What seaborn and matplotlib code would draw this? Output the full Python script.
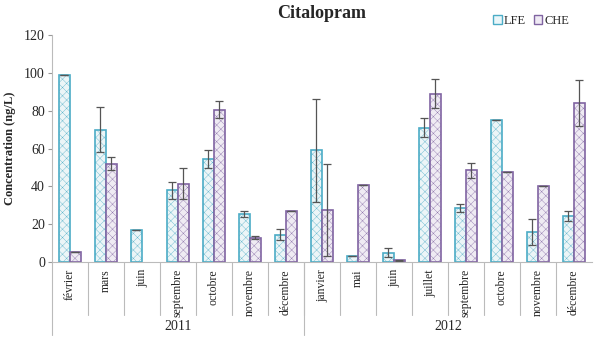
import numpy as np
import pandas as pd
import seaborn as sns
import matplotlib.pyplot as plt
import matplotlib.transforms as mtransforms
from matplotlib.patches import Patch

# ==================================
# DONNÉES
# ==================================

mois = ["février", "mars", "juin", "septembre", "octobre", "novembre", "décembre",
        "janvier", "mai", "juin ", "juillet", "septembre ", "octobre ", "novembre ", "décembre "]
annees = ["2011", "2012"]
n_mois_annee = [7, 8]

lfe = [99, 70, 17, 38, 54.5, 25.5, 14.5, 59, 3.5, 5, 71, 28.5, 75, 16, 24.5]
lfe_err = [0, 12, 0, 4.5, 5, 1.5, 3, 27, 0, 2.5, 5, 2, 0, 7, 2.5]
che = [5.5, 52, np.nan, 41.5, 80.5, 13, 27, 27.5, 41, 1, 89, 48.5, 47.5, 40, 84]
che_err = [0, 3.5, 0, 8, 4.5, 1, 0, 24.5, 0, 0.3, 7.5, 4, 0, 0, 12]

sites = ["LFE", "CHE"]
df = pd.DataFrame({
    "mois": mois * 2,
    "site": ["LFE"] * len(mois) + ["CHE"] * len(mois),
    "conc": lfe + che,
    "err": lfe_err + che_err,
})

# ==================================
# FIGURE
# ==================================

sns.set_style("white")
plt.rcParams["font.family"] = ["Liberation Serif", "DejaVu Serif"]
plt.rcParams["hatch.linewidth"] = 0.25

fig = plt.figure(figsize=(5.96, 3.40), dpi=100)
ax = fig.add_axes([0.087, 0.229, 0.906, 0.668])

bords = {"LFE": "#4bacc6", "CHE": "#8064a2"}
fonds = {"LFE": "#eaf6f9", "CHE": "#efeaf4"}

sns.barplot(
    data=df, x="mois", y="conc", hue="site", hue_order=sites,
    palette=fonds, width=0.6, errorbar=None, legend=False, ax=ax
)

# bordures, hachures et barres d'erreur (par série)
erreurs = {"LFE": lfe_err, "CHE": che_err}
valeurs = {"LFE": lfe, "CHE": che}
for site, cont in zip(sites, ax.containers):
    for p in cont.patches:
        p.set_edgecolor(bords[site])
        p.set_linewidth(1.2)
        p.set_hatch("xxxx")
        xc = p.get_x() + p.get_width() / 2
        k = int(round(xc))
        val = valeurs[site][k]
        if np.isnan(val):
            continue
        ax.errorbar(xc, val, yerr=erreurs[site][k], fmt="none", ecolor="#555555",
                    elinewidth=0.9, capsize=3, capthick=0.9)

ax.set_ylim(0, 120)
ax.set_yticks(range(0, 121, 20))
ax.set_xlim(-0.5, len(mois) - 0.5)
ax.tick_params(axis="y", labelsize=10, length=3, color="#999999", left=True, pad=2)
ax.set_ylabel("Concentration (ng/L)", fontsize=9, fontweight="bold", labelpad=6)
ax.set_xlabel("")

for s in ["top", "right"]:
    ax.spines[s].set_visible(False)
ax.spines["left"].set_color("#bbbbbb")
ax.spines["bottom"].set_color("#bbbbbb")

ax.set_xticks(range(len(mois)))
ax.set_xticklabels([m.strip() for m in mois], rotation=90, fontsize=8.5, va="top")
ax.tick_params(axis="x", length=0, pad=5)

# lignes de séparation sous l'axe
trans = mtransforms.blended_transform_factory(ax.transData, ax.transAxes)
for k in range(1, len(mois)):
    ax.plot([k - 0.5, k - 0.5], [0, -0.233], transform=trans, color="#bbbbbb",
            lw=0.8, clip_on=False)
debut = -0.5
for an, n in zip(annees, n_mois_annee):
    ax.plot([debut, debut], [0, -0.32], transform=trans, color="#bbbbbb",
            lw=0.8, clip_on=False)
    ax.text(debut + n / 2, -0.285, an, transform=trans, ha="center",
            va="center", fontsize=10)
    debut += n

ax.set_title("Citalopram", fontsize=13, fontweight="bold", pad=12)

handles = [Patch(facecolor=fonds[s], edgecolor=bords[s], label=s) for s in sites]
fig.legend(handles=handles, loc="upper right", bbox_to_anchor=(0.975, 0.99),
           ncol=2, frameon=False, fontsize=9, handlelength=0.7,
           handleheight=0.7, handletextpad=0.2, columnspacing=0.6)

fig.savefig("out.png", dpi=100)
